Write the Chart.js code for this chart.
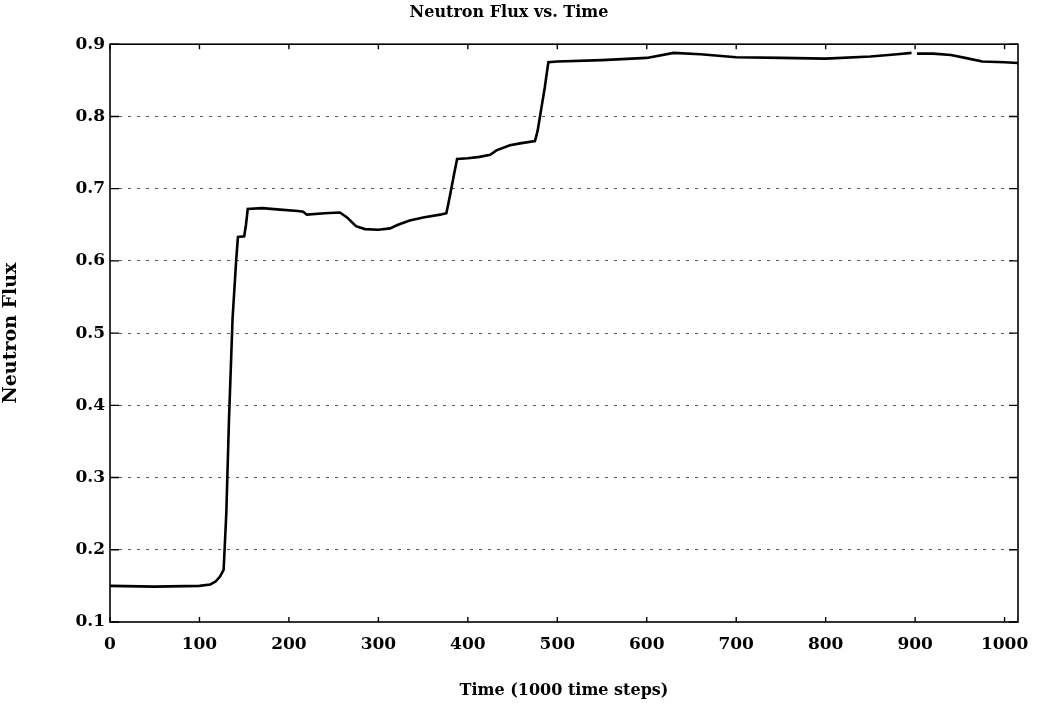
<!DOCTYPE html>
<html>
<head>
<meta charset="utf-8">
<title>Neutron Flux vs. Time</title>
<script src="https://cdn.jsdelivr.net/npm/chart.js@4/dist/chart.umd.min.js"></script>
<style>
  body { margin: 0; background: #fff; }
  .chart-wrap { width: 1046px; height: 711px; }
</style>
</head>
<body>
<div class="chart-wrap"><canvas id="fluxChart"></canvas></div>
<script>
// time (1000 time steps) and flux
const timeSteps = [0, 50, 100, 112, 118, 123, 127, 130, 133, 137, 141, 143, 150, 152, 154, 170, 190, 210, 216, 220, 240, 257, 265, 275, 285, 300, 313, 322, 335, 350, 369, 376, 380, 384, 388, 400, 413, 425, 432, 447, 460, 475, 478, 482, 486, 490, 500, 550, 600, 630, 660, 700, 750, 800, 850, 880, 896, 899, 902, 920, 940, 960, 975, 1000, 1015];
const fluxValues = [0.150, 0.149, 0.150, 0.152, 0.156, 0.163, 0.172, 0.25, 0.38, 0.52, 0.60, 0.633, 0.634, 0.650, 0.672, 0.673, 0.671, 0.669, 0.668, 0.664, 0.666, 0.667, 0.660, 0.648, 0.644, 0.643, 0.645, 0.650, 0.656, 0.660, 0.664, 0.666, 0.690, 0.716, 0.741, 0.742, 0.744, 0.747, 0.753, 0.760, 0.763, 0.766, 0.78, 0.81, 0.84, 0.875, 0.876, 0.878, 0.881, 0.888, 0.886, 0.882, 0.881, 0.880, 0.883, 0.886, 0.888, null, 0.887, 0.887, 0.885, 0.880, 0.876, 0.875, 0.874];
const xTickValues = [0, 100, 200, 300, 400, 500, 600, 700, 800, 900, 1000];
const yMin = 0.1;
const yMax = 0.9;

const points = timeSteps.map((t, i) => ({ x: t, y: fluxValues[i] }));

// box round the plot + little inward ticks, like the old matlab figure
const frameTicks = {
  id: "frameTicks",
  afterDatasetsDraw(chart) {
    const { ctx, chartArea: a, scales } = chart;
    ctx.save();
    ctx.strokeStyle = "#000";
    ctx.lineWidth = 1.6;
    ctx.strokeRect(a.left, a.top, a.right - a.left, a.bottom - a.top);
    ctx.lineWidth = 1.4;
    ctx.beginPath();
    scales.y.ticks.forEach((t) => {
      const py = scales.y.getPixelForValue(t.value);
      ctx.moveTo(a.left, py);
      ctx.lineTo(a.left + 9, py);
      ctx.moveTo(a.right, py);
      ctx.lineTo(a.right - 9, py);
    });
    scales.x.ticks.forEach((t) => {
      const px = scales.x.getPixelForValue(t.value);
      ctx.moveTo(px, a.bottom);
      ctx.lineTo(px, a.bottom - 5);
      ctx.moveTo(px, a.top);
      ctx.lineTo(px, a.top + 5);
    });
    ctx.stroke();
    ctx.restore();
  },
};

const serif = "'DejaVu Serif', 'Liberation Serif', serif";

new Chart(document.getElementById("fluxChart"), {
  type: "line",
  data: {
    datasets: [
      {
        data: points,
        borderColor: "#000",
        borderWidth: 2.6,
        pointRadius: 0,
        tension: 0,
        spanGaps: false,
      },
    ],
  },
  options: {
    responsive: true,
    maintainAspectRatio: false,
    animation: false,
    layout: { padding: { left: 0, right: 28, top: 0, bottom: 0 } },
    plugins: {
      legend: { display: false },
      tooltip: { enabled: false },
      title: {
        display: true,
        text: "Neutron Flux vs. Time",
        color: "#000",
        font: { family: serif, size: 16, weight: "bold" },
        padding: { top: 3, bottom: 22 },
      },
    },
    scales: {
      x: {
        type: "linear",
        min: 0,
        max: 1015,
        afterBuildTicks: (s) => {
          s.ticks = xTickValues.map((v) => ({ value: v }));
        },
        afterFit: (s) => {
          s.height = 89;
        },
        ticks: {
          padding: 4,
          color: "#000",
          maxRotation: 0,
          autoSkip: false,
          callback: (v) => String(v),
          font: { family: serif, size: 17, weight: "bold" },
        },
        grid: { display: false },
        border: { display: false },
        title: {
          display: true,
          text: "Time (1000 time steps)",
          color: "#000",
          font: { family: serif, size: 16, weight: "bold" },
          padding: { top: 0, bottom: 11 },
        },
      },
      y: {
        min: yMin,
        max: yMax,
        afterFit: (s) => {
          s.width = 110;
        },
        ticks: {
          stepSize: 0.1,
          padding: 5,
          color: "#000",
          font: { family: serif, size: 17, weight: "bold" },
        },
        grid: {
          drawTicks: false,
          lineWidth: 1,
          color: (c) =>
            c.tick && c.tick.value > yMin + 0.01 && c.tick.value < yMax - 0.01
              ? "#555"
              : "rgba(0,0,0,0)",
        },
        border: { display: false, dash: [3, 6] },
        title: {
          display: true,
          text: "Neutron Flux",
          color: "#000",
          font: { family: serif, size: 19, weight: "bold" },
          padding: { top: 0, bottom: 8 },
        },
      },
    },
  },
  plugins: [frameTicks],
});
</script>
</body>
</html>
